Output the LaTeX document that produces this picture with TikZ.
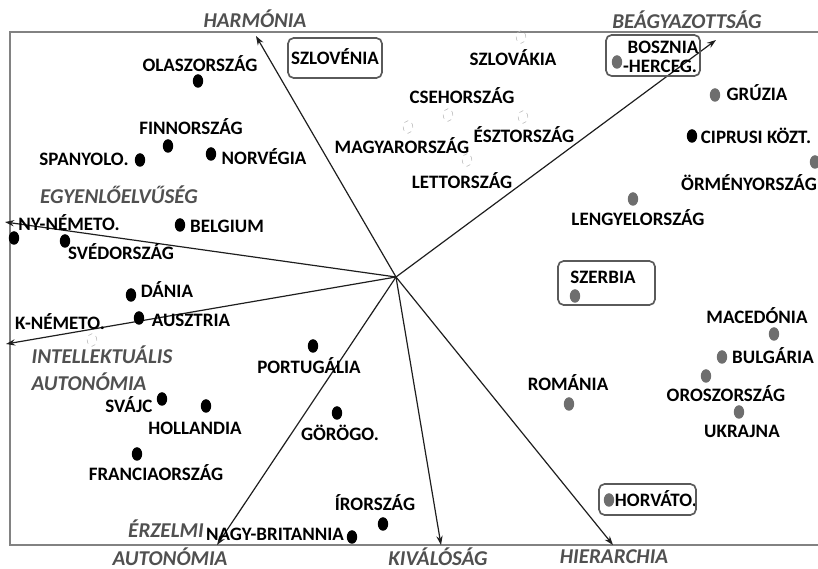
\documentclass[tikz,border=0pt]{standalone}
\usepackage{fontspec}
\setmainfont{Carlito}
\usetikzlibrary{arrows.meta,shapes.geometric}
\tikzset{
	orszag/.style={font=\fontsize{13.5}{14}\selectfont\bfseries,inner sep=0pt,text=black},
	dimenzio/.style={font=\fontsize{15}{16}\selectfont\bfseries\itshape,inner sep=0pt,text=cimke},
	pontf/.style={ellipse,fill=black,inner sep=0pt,minimum width=7.4pt,minimum height=9.6pt},
	pontsz/.style={pontf,fill=kelet},
	ponture/.style={ellipse,draw=halvany,dashed,line width=0.4pt,inner sep=0pt,minimum width=6.8pt,minimum height=9pt},
	tengely/.style={draw=vonal,line width=0.85pt,-{Stealth[length=6.5pt,width=4.5pt]}},
	keret/.style={draw=kerets,line width=1.2pt,rounded corners=4pt}
}
\begin{document}
\begin{tikzpicture}[x=0.025cm,y=-0.025cm]
	\definecolor{cimke}{RGB}{80,80,80}
	\definecolor{kelet}{RGB}{110,110,110}
	\definecolor{halvany}{RGB}{185,185,185}
	\definecolor{vonal}{RGB}{30,30,30}
	\definecolor{kerets}{RGB}{90,90,90}
	\definecolor{keretv}{RGB}{130,130,130}
	
	\useasboundingbox (0,0) rectangle (818,569);
	%keret
	\draw[keretv,line width=0.8pt] (818,32) -- (10,32) -- (10,545) -- (818,545);
	
	%tengelyek
	\coordinate (kozep) at (396,277);
	\coordinate (harm) at (256,36);
	\coordinate (beagy) at (716,40);
	\coordinate (egyen) at (5,222);
	\coordinate (intel) at (6,344);
	\coordinate (erz) at (217,545);
	\coordinate (kival) at (441,545);
	\coordinate (hier) at (613,545);
	\foreach \v in {harm,beagy,egyen,intel,erz,kival,hier}
		\draw[tengely] (kozep) -- (\v);
	
	\node[dimenzio] (l-harm) at (255,19) {HARMÓNIA};
	\node[dimenzio] (l-beagy) at (687,20) {BEÁGYAZOTTSÁG};
	\node[dimenzio] (l-egyen) at (119,195) {EGYENLŐELVŰSÉG};
	\node[dimenzio] (l-intel) at (102,355) {INTELLEKTUÁLIS};
	\node[dimenzio] (l-intel2) at (89,382) {AUTONÓMIA};
	\node[dimenzio] (l-erz) at (166,529) {ÉRZELMI};
	\node[dimenzio] (l-erz2) at (170,557) {AUTONÓMIA};
	\node[dimenzio] (l-kival) at (438,557) {KIVÁLÓSÁG};
	\node[dimenzio] (l-hier) at (614,557) {HIERARCHIA};
	
	%nyugat
	\node[pontf] (olasz) at (198,81) {};
	\node[orszag] (l-olasz) at (200,64) {OLASZORSZÁG};
	\node[pontf] (finn) at (168,146) {};
	\node[orszag] (l-finn) at (191,127) {FINNORSZÁG};
	\node[pontf] (spany) at (140,160) {};
	\node[orszag] (l-spany) at (84,159) {SPANYOLO.};
	\node[pontf] (norv) at (211,154) {};
	\node[orszag] (l-norv) at (264,157) {NORVÉGIA};
	\node[pontf] (belg) at (180,225) {};
	\node[orszag] (l-belg) at (227,226) {BELGIUM};
	\node[pontf] (nynem) at (14,238) {};
	\node[orszag] (l-nynem) at (69,223) {NY-NÉMETO.};
	\node[pontf] (sved) at (65,241) {};
	\node[orszag] (l-sved) at (121,252) {SVÉDORSZÁG};
	\node[pontf] (dan) at (131,295) {};
	\node[orszag] (l-dan) at (167,290) {DÁNIA};
	\node[pontf] (auszt) at (139,318) {};
	\node[orszag] (l-auszt) at (191,320) {AUSZTRIA};
	\node[ponture] (knem) at (92,340) {};
	\node[orszag] (l-knem) at (60,322) {K-NÉMETO.};
	\node[pontf] (port) at (313,346) {};
	\node[orszag] (l-port) at (309,366) {PORTUGÁLIA};
	\node[pontf] (svajc) at (162,399) {};
	\node[orszag] (l-svajc) at (129,405) {SVÁJC};
	\node[pontf] (holl) at (206,406) {};
	\node[orszag] (l-holl) at (195,428) {HOLLANDIA};
	\node[pontf] (franc) at (137,454) {};
	\node[orszag] (l-franc) at (156,473) {FRANCIAORSZÁG};
	\node[pontf] (gorog) at (337,413) {};
	\node[orszag] (l-gorog) at (340,433) {GÖRÖGO.};
	\node[pontf] (ir) at (383,524) {};
	\node[orszag] (l-ir) at (375,503) {ÍRORSZÁG};
	\node[pontf] (nagyb) at (352,537) {};
	\node[orszag] (l-nagyb) at (275,534) {NAGY-BRITANNIA};
	
	%kozep-europa
	\node[orszag] (l-szlovenia) at (335,57) {SZLOVÉNIA};
	\draw[keret] (288,38) rectangle (382,78);
	\node[ponture] (szlovak) at (521,37) {};
	\node[orszag] (l-szlovak) at (513,58) {SZLOVÁKIA};
	\node[ponture] (cseh) at (448,115) {};
	\node[orszag] (l-cseh) at (462,96) {CSEHORSZÁG};
	\node[ponture] (magyar) at (408,127) {};
	\node[orszag] (l-magyar) at (402,146) {MAGYARORSZÁG};
	\node[ponture] (eszt) at (523,117) {};
	\node[orszag] (l-eszt) at (524,135) {ÉSZTORSZÁG};
	\node[ponture] (lett) at (467,160) {};
	\node[orszag] (l-lett) at (462,181) {LETTORSZÁG};
	
	%kelet
	\node[pontsz] (bosz) at (617,62) {};
	\node[orszag] (l-bosz) at (663,47) {BOSZNIA};
	\node[orszag] (l-bosz2) at (660,66) {-HERCEG.};
	\draw[keret] (606,35) rectangle (700,76);
	\node[pontsz] (gruz) at (715,95) {};
	\node[orszag] (l-gruz) at (757,93) {GRÚZIA};
	\node[pontf] (cipr) at (692,136) {};
	\node[orszag] (l-cipr) at (756,136) {CIPRUSI KÖZT.};
	\node[pontsz] (ormeny) at (815,162) {};
	\node[orszag] (l-ormeny) at (749,183) {ÖRMÉNYORSZÁG};
	\node[pontsz] (lengy) at (633,199) {};
	\node[orszag] (l-lengy) at (638,218) {LENGYELORSZÁG};
	\node[pontsz] (szerb) at (575,296) {};
	\node[orszag] (l-szerb) at (603,277) {SZERBIA};
	\draw[keret] (558,261) rectangle (655,305);
	\node[pontsz] (maced) at (774,334) {};
	\node[orszag] (l-maced) at (757,316) {MACEDÓNIA};
	\node[pontsz] (bulg) at (722,357) {};
	\node[orszag] (l-bulg) at (773,356) {BULGÁRIA};
	\node[pontsz] (orosz) at (706,376) {};
	\node[orszag] (l-orosz) at (726,394) {OROSZORSZÁG};
	\node[pontsz] (ukr) at (739,412) {};
	\node[orszag] (l-ukr) at (742,431) {UKRAJNA};
	\node[pontsz] (rom) at (569,404) {};
	\node[orszag] (l-rom) at (568,383) {ROMÁNIA};
	\node[pontsz] (horv) at (609,500) {};
	\node[orszag] (l-horv) at (656,499) {HORVÁTO.};
	\draw[keret] (599,484) rectangle (696,515);
\end{tikzpicture}
\end{document}
